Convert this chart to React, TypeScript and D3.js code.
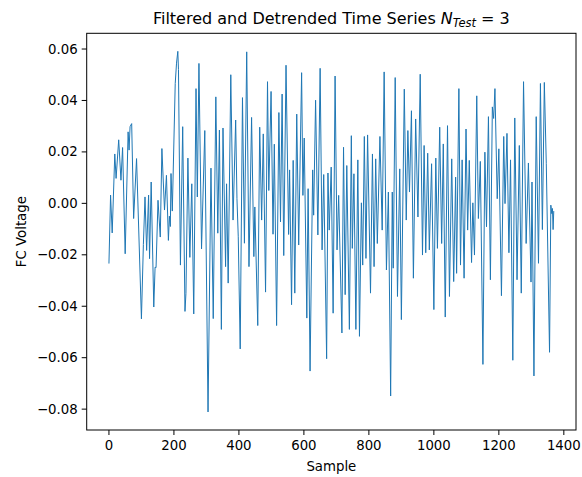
import React from "react";
import * as d3 from "d3";

const sampleIdx: number[] = [
  0, 5, 10, 18, 22, 30, 37, 42, 50, 59, 62, 65, 70, 76, 85, 100, 106, 111, 116, 122,
  125, 130, 138, 142, 145, 151, 158, 163, 171, 177, 183, 186, 189, 191, 195, 204, 208, 212, 214, 220,
  227, 234, 237, 243, 249, 255, 261, 268, 272, 277, 285, 295, 305, 314, 321, 329, 335, 340, 346, 351,
  359, 362, 367, 375, 382, 390, 394, 398, 404, 411, 417, 424, 431, 439, 446, 449, 458, 464, 470, 475,
  482, 488, 492, 499, 505, 509, 516, 523, 528, 533, 538, 545, 553, 556, 562, 567, 572, 578, 584, 593,
  597, 601, 609, 613, 619, 627, 630, 636, 643, 650, 656, 661, 670, 674, 678, 684, 690, 696, 702, 707,
  717, 722, 727, 732, 740, 746, 749, 754, 760, 766, 771, 777, 781, 786, 791, 796, 805, 811, 816, 821,
  826, 834, 841, 847, 854, 860, 867, 872, 875, 881, 888, 895, 900, 909, 915, 920, 925, 931, 937, 944,
  951, 958, 965, 970, 975, 981, 986, 993, 1000, 1006, 1011, 1018, 1024, 1029, 1035, 1042, 1048, 1055, 1061, 1067,
  1070, 1077, 1082, 1087, 1093, 1099, 1104, 1109, 1116, 1120, 1125, 1132, 1137, 1143, 1151, 1157, 1162, 1168, 1174, 1180,
  1184, 1188, 1195, 1200, 1208, 1215, 1219, 1225, 1231, 1236, 1243, 1249, 1256, 1263, 1269, 1276, 1284, 1291, 1299, 1302,
  1308, 1315, 1322, 1328, 1334, 1340, 1346, 1356, 1360, 1363, 1365, 1367, 1369,
];

const voltage: number[] = [
  -0.0234, 0.0032, -0.0115, 0.0192, 0.0097, 0.0247, 0.009, 0.0217, -0.0196, 0.0278, 0.0207, 0.0298, 0.031, -0.0059, 0.0174, -0.0449, -0.016, 0.0025, -0.0183, 0.0032,
  -0.0215, 0.0083, -0.0403, -0.0248, -0.025, 0.0012, -0.0131, 0.0213, -0.0026, 0.0109, -0.0144, -0.005, -0.009, 0.0116, -0.003, 0.0466, 0.0545, 0.0591, 0.052, -0.024,
  0.0298, -0.042, -0.035, 0.0176, -0.021, 0.0076, -0.043, 0.0446, 0.0025, 0.0544, -0.0177, 0.0283, -0.0811, 0.0137, -0.0448, 0.0414, -0.0116, 0.0285, -0.049, 0.0293,
  -0.0246, 0.0076, -0.031, 0.05, -0.0065, 0.0324, 0.0018, -0.013, -0.0566, 0.0411, -0.0155, 0.0589, -0.0246, 0.0334, -0.0207, -0.0014, -0.0475, 0.0296, -0.0065, 0.027,
  -0.0345, 0.0473, 0.005, 0.0435, -0.012, 0.023, -0.0475, 0.0353, -0.0072, 0.0425, -0.0203, 0.0537, -0.0121, 0.013, -0.0394, 0.0167, -0.0349, 0.0347, -0.0162, 0.0508,
  0.0031, 0.0254, -0.0446, 0.0057, -0.0652, 0.013, -0.0046, 0.0401, -0.0123, 0.0525, -0.0181, 0.0112, -0.0604, 0.0118, -0.0104, 0.0141, -0.0427, 0.0495, -0.0181, 0.0031,
  -0.0504, 0.0218, -0.0355, 0.0147, -0.049, 0.0263, -0.0175, 0.0115, -0.049, 0.0169, -0.0517, 0.0002, -0.024, 0.026, -0.0214, 0.0266, -0.0349, 0.0192, -0.0246, 0.0173,
  -0.0156, 0.026, -0.0104, 0.0511, -0.0259, 0.0044, -0.0749, 0.0044, -0.0252, 0.0489, -0.0362, 0.0134, -0.0452, 0.0444, -0.0065, 0.0283, 0.0044, 0.036, -0.0291, 0.0328,
  -0.0053, 0.0502, -0.0201, 0.0225, -0.0192, 0.0195, -0.0181, 0.0154, -0.0413, 0.0176, -0.0175, 0.0296, -0.0156, 0.0231, -0.0442, 0.0302, -0.0362, 0.0173, -0.0304, 0.0102,
  -0.0272, 0.0446, -0.024, 0.0169, -0.0291, 0.0289, -0.0104, 0.0167, -0.023, 0.0002, -0.0201, 0.0418, -0.0059, 0.0163, -0.0626, 0.0199, -0.0091, 0.0337, -0.0297, 0.0375,
  0.033, 0.0446, 0.0018, 0.0212, -0.0359, 0.026, -0.0001, 0.0272, -0.0192, 0.0169, -0.061, 0.0332, -0.0297, 0.0225, -0.0349, 0.0473, -0.0156, 0.0157, -0.0306, 0.0083,
  -0.0671, 0.0337, -0.0233, 0.0466, -0.0102, 0.047, 0.0154, -0.0579, -0.0007, -0.004, -0.002, -0.0102, -0.003,
];

const xTicks: number[] = [0, 200, 400, 600, 800, 1000, 1200, 1400];
const yTicks: number[] = [-0.08, -0.06, -0.04, -0.02, 0.0, 0.02, 0.04, 0.06];

const W = 582;
const H = 477;
const axLeft = 86.7;
const axRight = 576;
const axTop = 33.3;
const axBottom = 430;
const FONT = "'DejaVu Sans', sans-serif";
const LINE_COLOR = "#1f77b4";

export default function App() {
  const xExt = d3.extent(sampleIdx) as [number, number];
  const yExt = d3.extent(voltage) as [number, number];
  const xPad = (xExt[1] - xExt[0]) * 0.05;
  const yPad = (yExt[1] - yExt[0]) * 0.05;

  const x = d3.scaleLinear().domain([xExt[0] - xPad, xExt[1] + xPad]).range([axLeft, axRight]);
  const y = d3.scaleLinear().domain([yExt[0] - yPad, yExt[1] + yPad]).range([axBottom, axTop]);

  const data = sampleIdx.map((s, i) => [s, voltage[i]] as [number, number]);
  const line = d3
    .line<[number, number]>()
    .x((d) => x(d[0]))
    .y((d) => y(d[1]));

  const fmtY = (v: number) => {
    const s = Math.abs(v).toFixed(2);
    return v < -1e-9 ? "\u2212" + s : s;
  };

  const midX = (axLeft + axRight) / 2;
  const midY = (axTop + axBottom) / 2;

  return (
    <svg
      width={W}
      height={H}
      style={{ position: "absolute", left: 0, top: 0, background: "#fff" }}
      fontFamily={FONT}
    >
      <rect x={0} y={0} width={W} height={H} fill="#fff" />
      <defs>
        <clipPath id="plotclip">
          <rect x={axLeft} y={axTop} width={axRight - axLeft} height={axBottom - axTop} />
        </clipPath>
      </defs>
      <path
        d={line(data) || ""}
        fill="none"
        stroke={LINE_COLOR}
        strokeWidth={1}
        strokeLinejoin="round"
        clipPath="url(#plotclip)"
      />
      <rect
        x={axLeft}
        y={axTop}
        width={axRight - axLeft}
        height={axBottom - axTop}
        fill="none"
        stroke="#000"
        strokeWidth={1}
      />
      {xTicks.map((t) => (
        <g key={"x" + t}>
          <line x1={x(t)} x2={x(t)} y1={axBottom} y2={axBottom + 5} stroke="#000" strokeWidth={1} />
          <text x={x(t)} y={axBottom + 20} fontSize={13.3} textAnchor="middle" fill="#000">
            {String(t)}
          </text>
        </g>
      ))}
      {yTicks.map((t) => (
        <g key={"y" + t}>
          <line x1={axLeft - 5} x2={axLeft} y1={y(t)} y2={y(t)} stroke="#000" strokeWidth={1} />
          <text
            x={axLeft - 9}
            y={y(t)}
            fontSize={13.3}
            textAnchor="end"
            dominantBaseline="central"
            fill="#000"
          >
            {fmtY(t)}
          </text>
        </g>
      ))}
      <text x={midX} y={471} fontSize={13.3} textAnchor="middle" fill="#000">
        Sample
      </text>
      <text
        transform={`translate(26, ${midY}) rotate(-90)`}
        fontSize={13.3}
        textAnchor="middle"
        fill="#000"
      >
        FC Voltage
      </text>
      <text x={midX} y={24} fontSize={16} textAnchor="middle" fill="#000">
        <tspan>Filtered and Detrended Time Series </tspan>
        <tspan fontStyle="italic">N</tspan>
        <tspan fontStyle="italic" fontSize={11.5} dy={3}>
          Test
        </tspan>
        <tspan dy={-3}> = 3</tspan>
      </text>
    </svg>
  );
}
